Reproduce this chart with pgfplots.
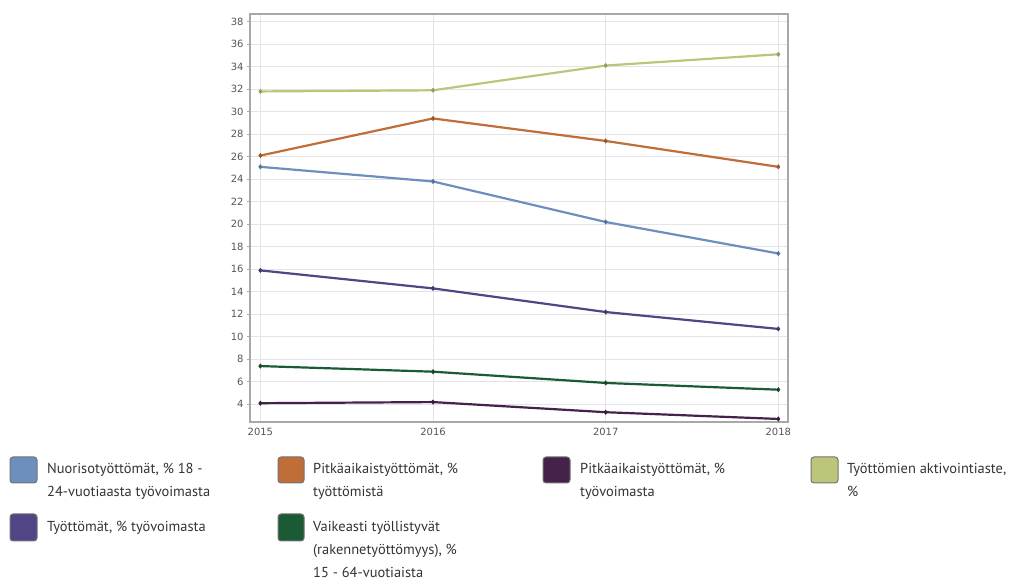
\documentclass[border=0pt]{standalone}
\usepackage{pgfplots}
\pgfplotsset{compat=1.18}
\usepackage{fontspec}
\setmainfont{PT Sans}
\newfontfamily\tickfont{DejaVu Sans}
\definecolor{cBlue}{HTML}{6D8FBE}
\definecolor{cOrange}{HTML}{BF6E37}
\definecolor{cDPurple}{HTML}{45224A}
\definecolor{cOlive}{HTML}{BDC57A}
\definecolor{cPurple}{HTML}{524586}
\definecolor{cDGreen}{HTML}{1A5A35}
\definecolor{gridc}{HTML}{E4E4E8}
\definecolor{framec}{HTML}{A8A8A8}
\definecolor{tickc}{HTML}{555555}
\definecolor{legc}{HTML}{333333}
\begin{document}
\begin{tikzpicture}
\path[use as bounding box] (0bp,0bp) rectangle (1025bp,579bp);
\begin{axis}[
  at={(250bp,157bp)}, anchor=south west,
  scale only axis, width=538bp, height=408bp,
  xmin=2014.94, xmax=2018.056, ymin=2.43, ymax=38.68,
  xtick={2015,2016,2017,2018}, ytick={4,6,...,38},
  ytick pos=left,
  grid=major, major grid style={draw=gridc, line width=0.8bp},
  axis line style={draw=framec, line width=1.2bp},
  tick style={draw=framec, line width=0.8bp},
  tick align=outside, major tick length=3bp,
  xtick style={draw=none},
  /pgf/number format/assume math mode=true,
  /pgf/number format/1000 sep={},
  ticklabel style={font=\tickfont\fontsize{10}{12}\selectfont, text=tickc},
  every axis plot/.append style={line width=2.2bp, mark=diamond*, mark size=2.2bp},
]
\addplot[cOlive, mark options={fill=cOlive!80!black, draw=cOlive!80!black, line width=0.5bp}] coordinates {(2015,31.8) (2016,31.9) (2017,34.1) (2018,35.1)};
\addplot[cOrange, mark options={fill=cOrange!80!black, draw=cOrange!80!black, line width=0.5bp}] coordinates {(2015,26.1) (2016,29.4) (2017,27.4) (2018,25.1)};
\addplot[cBlue, mark options={fill=cBlue!80!black, draw=cBlue!80!black, line width=0.5bp}] coordinates {(2015,25.1) (2016,23.8) (2017,20.2) (2018,17.4)};
\addplot[cPurple, mark options={fill=cPurple!80!black, draw=cPurple!80!black, line width=0.5bp}] coordinates {(2015,15.9) (2016,14.3) (2017,12.2) (2018,10.7)};
\addplot[cDGreen, mark options={fill=cDGreen!80!black, draw=cDGreen!80!black, line width=0.5bp}] coordinates {(2015,7.4) (2016,6.9) (2017,5.9) (2018,5.3)};
\addplot[cDPurple, mark options={fill=cDPurple!80!black, draw=cDPurple!80!black, line width=0.5bp}] coordinates {(2015,4.1) (2016,4.2) (2017,3.3) (2018,2.7)};
\end{axis}
% legend
\begin{scope}[x=1bp,y=1bp]
\tikzset{sw/.style={draw=black!55, line width=1bp, rounded corners=3bp},
  lt/.style={anchor=base west, inner sep=0pt, text=legc, font=\fontsize{14.5}{17}\selectfont}}
\fill[cBlue, sw] (10,96) rectangle (37,122);
\node[lt] at (47,106) {Nuorisotyöttömät, \% 18 -};
\node[lt] at (47,83) {24-vuotiaasta työvoimasta};
\fill[cOrange, sw] (278,96) rectangle (304,122);
\node[lt] at (313,106) {Pitkäaikaistyöttömät, \%};
\node[lt] at (313,83) {työttömistä};
\fill[cDPurple, sw] (543,96) rectangle (570,122);
\node[lt] at (580,106) {Pitkäaikaistyöttömät, \%};
\node[lt] at (580,83) {työvoimasta};
\fill[cOlive, sw] (811,96) rectangle (838,122);
\node[lt] at (847,106) {Työttömien aktivointiaste,};
\node[lt] at (847,83) {\%};
\fill[cPurple, sw] (10,38) rectangle (37,65);
\node[lt] at (47,48) {Työttömät, \% työvoimasta};
\fill[cDGreen, sw] (278,38) rectangle (304,65);
\node[lt] at (313,48) {Vaikeasti työllistyvät};
\node[lt] at (313,25) {(rakennetyöttömyys), \%};
\node[lt] at (313,2) {15 - 64-vuotiaista};
\end{scope}
\end{tikzpicture}
\end{document}
